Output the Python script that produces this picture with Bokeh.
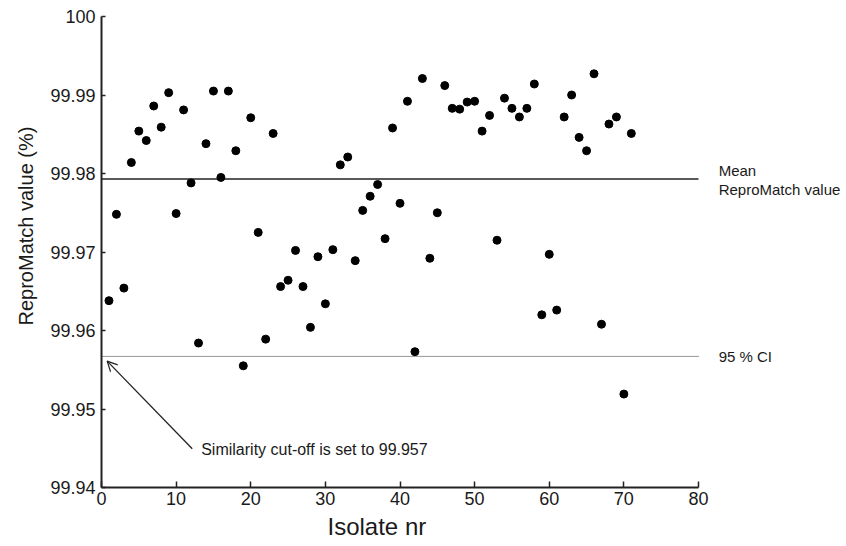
import math
from bokeh.plotting import figure
from bokeh.models import (Range1d, FixedTicker, CustomJSTickFormatter, Label,
                          Arrow, OpenHead, ColumnDataSource, Title)
from bokeh.embed import file_html
from bokeh.resources import INLINE

# ---- data ----
isolate = list(range(1, 72))
repromatch = [
    99.9638, 99.9748, 99.9654, 99.9814, 99.9854, 99.9842, 99.9886, 99.9859, 99.9903, 99.9749,
    99.9881, 99.9788, 99.9584, 99.9838, 99.9905, 99.9795, 99.9905, 99.9829, 99.9555, 99.9871,
    99.9725, 99.9589, 99.9851, 99.9656, 99.9664, 99.9702, 99.9656, 99.9604, 99.9694, 99.9634,
    99.9703, 99.9811, 99.9821, 99.9689, 99.9753, 99.9771, 99.9786, 99.9717, 99.9858, 99.9762,
    99.9892, 99.9573, 99.9921, 99.9692, 99.9750, 99.9912, 99.9883, 99.9882, 99.9891, 99.9892,
    99.9854, 99.9874, 99.9715, 99.9896, 99.9883, 99.9872, 99.9883, 99.9914, 99.9620, 99.9697,
    99.9626, 99.9872, 99.9900, 99.9846, 99.9829, 99.9927, 99.9608, 99.9863, 99.9872, 99.9519,
    99.9851,
]
mean_value = 99.9793
ci_value = 99.9567
x_ticks = [0, 10, 20, 30, 40, 50, 60, 70, 80]
y_ticks = [99.94, 99.95, 99.96, 99.97, 99.98, 99.99, 100.0]
x_axis_max = 80
y_min, y_max = 99.94, 100.0

FONT = "Liberation Sans"
TXT = "#1a1a1a"

W, H = 846, 546
LEFT, TOP, BOTTOM = 101, 16, 59
frame_w = W - LEFT
x_end = x_axis_max * frame_w / 597.0

p = figure(width=W, height=H, output_backend="svg", toolbar_location=None,
           x_range=Range1d(0, x_end), y_range=Range1d(y_min, y_max),
           min_border_left=LEFT, min_border_right=0, min_border_top=TOP,
           min_border_bottom=BOTTOM)
p.outline_line_color = None
p.xgrid.visible = False
p.ygrid.visible = False
p.background_fill_color = "white"
p.border_fill_color = "white"

# axes
p.xaxis.bounds = (0, x_axis_max)
p.yaxis.bounds = (y_min, y_max)
p.xaxis.ticker = FixedTicker(ticks=x_ticks)
p.yaxis.ticker = FixedTicker(ticks=y_ticks)
p.yaxis.formatter = CustomJSTickFormatter(
    code="return tick >= 99.9999 ? '100' : tick.toFixed(2);")
for ax in (p.xaxis, p.yaxis):
    ax.axis_line_color = "#222222"
    ax.axis_line_width = 2
    ax.major_tick_line_color = "#222222"
    ax.major_tick_line_width = 1.5
    ax.major_tick_out = 0
    ax.minor_tick_line_color = None
    ax.major_label_text_font = FONT
    ax.major_label_text_font_size = "18px"
    ax.major_label_text_color = TXT
p.xaxis.major_tick_in = 6
p.yaxis.major_tick_in = 4
p.xaxis.major_label_standoff = 4
p.yaxis.major_label_standoff = 6

# axis titles (as side titles so they can be offset like the reference)
p.add_layout(Title(text="Isolate nr", align="left", offset=226, standoff=7,
                   text_font=FONT, text_font_size="24px", text_font_style="normal",
                   text_color=TXT), "below")
p.add_layout(Title(text="ReproMatch value (%)", align="left", offset=162, standoff=22,
                   text_font=FONT, text_font_size="20px", text_font_style="normal",
                   text_color=TXT), "left")

# reference lines
p.line([0, x_axis_max], [mean_value, mean_value], line_color="#222222", line_width=1.5)
p.line([0, x_axis_max], [ci_value, ci_value], line_color="#333333", line_width=1,
       line_dash="1 1")

# points
src = ColumnDataSource(dict(x=isolate, y=repromatch))
p.scatter("x", "y", source=src, size=8, marker="circle",
          fill_color="black", line_color="black")

def lab(x, y, text, size, **kw):
    p.add_layout(Label(x=x, y=y, text=text, text_font=FONT,
                       text_font_size=size, text_color=TXT, **kw))

# annotations
lab(82.7, 99.98032, "Mean", "15px", text_baseline="alphabetic")
lab(82.7, 99.97790, "ReproMatch value", "15px", text_baseline="alphabetic")
lab(82.7, 99.95675, "95 % CI", "15px", text_baseline="alphabetic")
lab(13.36, 99.94478, "Similarity cut-off is set to 99.957", "16px",
    text_baseline="alphabetic")

p.add_layout(Arrow(end=OpenHead(size=10, line_width=1.2, line_color="#222222"),
                   x_start=12.16, y_start=99.94493, x_end=0.76, y_end=99.9561,
                   line_color="#222222", line_width=1.3))

open("out.html", "w").write(file_html(p, INLINE))
